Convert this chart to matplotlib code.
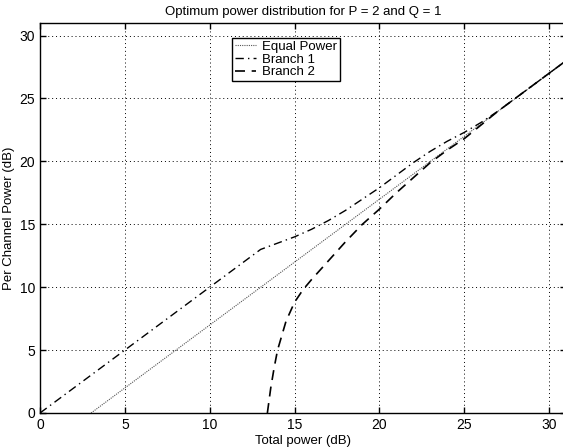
import matplotlib
matplotlib.use("Agg")
import matplotlib.pyplot as plt

# Data
eq_x = [3.01, 31.0]
eq_y = [0.0, 27.99]

b1_x = [0, 13, 14, 15, 16, 17, 18, 19, 20, 21, 22, 23, 24, 25, 26, 27, 28, 29, 30, 31]
b1_y = [0, 13, 13.5, 14.0, 14.6, 15.3, 16.1, 17.0, 17.9, 18.9, 19.9, 20.8, 21.6, 22.3, 23.1, 24.0, 25.0, 26.0, 27.0, 28.0]

b2_x = [13.4, 13.6, 13.8, 14.0, 14.5, 15, 15.5, 16, 17, 18, 19, 20, 21, 22, 23, 24, 25, 26, 27, 28, 29, 30, 31]
b2_y = [0, 2.0, 3.6, 5.0, 7.3, 8.8, 9.8, 10.6, 12.1, 13.6, 15.0, 16.2, 17.5, 18.7, 19.9, 20.9, 21.8, 22.9, 24.0, 25.0, 26.0, 27.0, 28.0]

xticks = [0, 5, 10, 15, 20, 25, 30]
yticks = [0, 5, 10, 15, 20, 25, 30]

plt.rcParams['font.family'] = ['Liberation Sans', 'DejaVu Sans']

fig = plt.figure(figsize=(5.63, 4.47), dpi=100)
W, H = 563, 447
ax = fig.add_axes([40 / W, (H - 413) / H, 526 / W, 390 / H])

ax.plot(eq_x, eq_y, linestyle=(0, (1, 1)), color='#555555', linewidth=0.8, label='Equal Power')
ax.plot(b1_x, b1_y, linestyle=(0, (6, 3, 1, 3)), color='black', linewidth=1.0, label='Branch 1')
ax.plot(b2_x, b2_y, linestyle=(0, (6, 4)), color='black', linewidth=1.2, label='Branch 2')

ax.set_xlim(0, 31)
ax.set_ylim(0, 31)
ax.set_xticks(xticks)
ax.set_yticks(yticks)
ax.tick_params(direction='in', top=True, right=True, labelsize=10, length=4, width=1)
ax.grid(True, linestyle=(0, (1, 3)), color='black', linewidth=0.7)
for s in ax.spines.values():
    s.set_linewidth(1.0)

ax.set_title('Optimum power distribution for P = 2 and Q = 1', fontsize=9.5, pad=6)
ax.set_xlabel('Total power (dB)', fontsize=9.5, labelpad=2)
ax.set_ylabel('Per Channel Power (dB)', fontsize=9.5, labelpad=3)

leg = ax.legend(loc='upper left', bbox_to_anchor=(0.365, 0.962), fontsize=9.5,
                frameon=True, fancybox=False, framealpha=1, edgecolor='black',
                handlelength=1.6, borderpad=0.2, labelspacing=0.05, handletextpad=0.5,
                borderaxespad=0)
leg.get_frame().set_linewidth(1.0)

fig.savefig('out.png', dpi=100, facecolor='white')
